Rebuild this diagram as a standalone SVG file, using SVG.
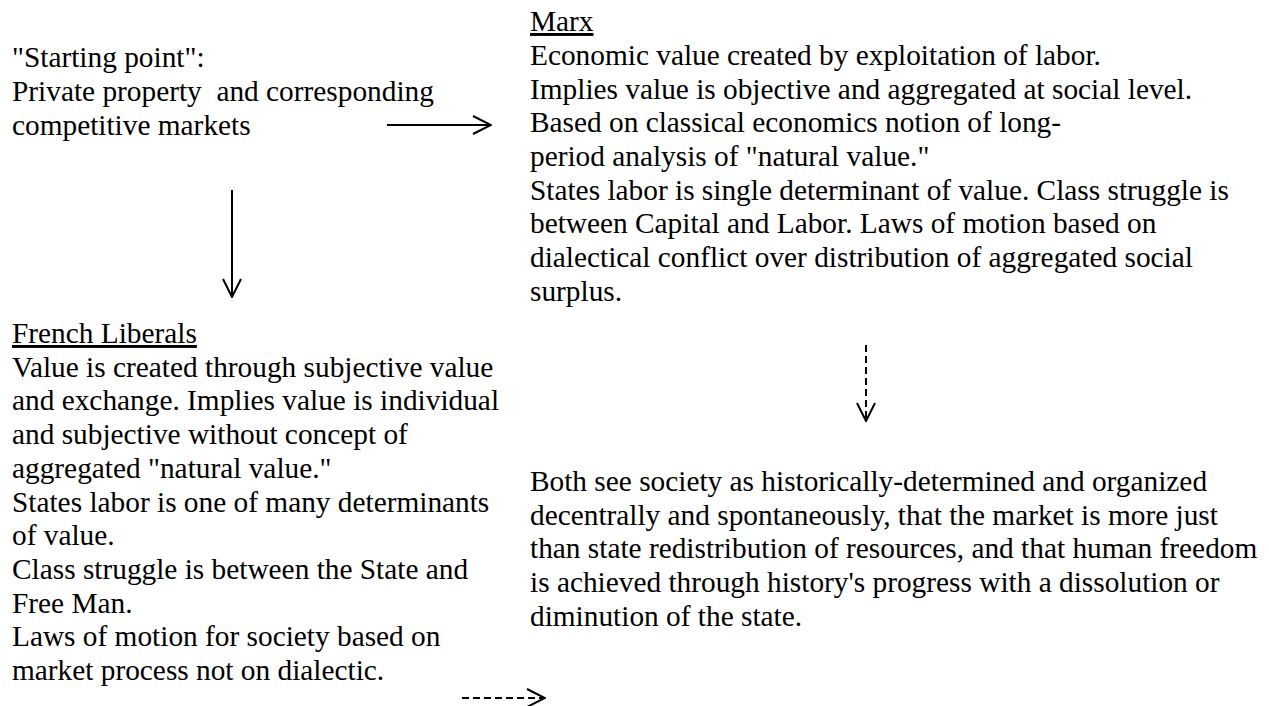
<svg xmlns="http://www.w3.org/2000/svg" width="1269" height="706" viewBox="0 0 1269 706">
  <style>
    .t { font-family: "Liberation Serif", "Times New Roman", serif; font-size: 29.33px; fill: #000; white-space: pre; }
    .u { text-decoration: underline; }
    .c { stroke: #000; stroke-width: 2; fill: none; }
    .d { stroke-dasharray: 7 4; }
  </style>
  <defs>
    <marker id="arr" viewBox="0 0 20 20" refX="19" refY="10" markerWidth="20" markerHeight="20" markerUnits="userSpaceOnUse" orient="auto">
      <path d="M1,1 L19,10 L1,19" fill="none" stroke="#000" stroke-width="2"/>
    </marker>
  </defs>
  <rect width="1269" height="706" fill="#fff"/>

  <g id="start">
    <text class="t" x="12" y="67">"Starting point":</text>
    <text class="t" x="12" y="101">Private property  and corresponding</text>
    <text class="t" x="12" y="135">competitive markets</text>
  </g>

  <g id="marx">
    <text class="t u" x="530" y="31">Marx</text>
    <text class="t" x="530" y="65">Economic value created by exploitation of labor.</text>
    <text class="t" x="530" y="99">Implies value is objective and aggregated at social level.</text>
    <text class="t" x="530" y="132">Based on classical economics notion of long-</text>
    <text class="t" x="530" y="166">period analysis of "natural value."</text>
    <text class="t" x="530" y="200">States labor is single determinant of value. Class struggle is</text>
    <text class="t" x="530" y="233">between Capital and Labor. Laws of motion based on</text>
    <text class="t" x="530" y="267">dialectical conflict over distribution of aggregated social</text>
    <text class="t" x="530" y="301">surplus.</text>
  </g>

  <g id="french">
    <text class="t u" x="12" y="343">French Liberals</text>
    <text class="t" x="12" y="377">Value is created through subjective value</text>
    <text class="t" x="12" y="410">and exchange. Implies value is individual</text>
    <text class="t" x="12" y="444">and subjective without concept of</text>
    <text class="t" x="12" y="478">aggregated "natural value."</text>
    <text class="t" x="12" y="512">States labor is one of many determinants</text>
    <text class="t" x="12" y="545">of value.</text>
    <text class="t" x="12" y="579">Class struggle is between the State and</text>
    <text class="t" x="12" y="613">Free Man.</text>
    <text class="t" x="12" y="646">Laws of motion for society based on</text>
    <text class="t" x="12" y="680">market process not on dialectic.</text>
  </g>

  <g id="both">
    <text class="t" x="530" y="491">Both see society as historically-determined and organized</text>
    <text class="t" x="530" y="525">decentrally and spontaneously, that the market is more just</text>
    <text class="t" x="530" y="558">than state redistribution of resources, and that human freedom</text>
    <text class="t" x="530" y="592">is achieved through history's progress with a dissolution or</text>
    <text class="t" x="530" y="626">diminution of the state.</text>
  </g>

  <g id="connectors">
    <line class="c" x1="387" y1="125" x2="491" y2="125" marker-end="url(#arr)"/>
    <line class="c" x1="232" y1="190" x2="232" y2="297" marker-end="url(#arr)"/>
    <line class="c d" x1="866" y1="345" x2="866" y2="421" marker-end="url(#arr)"/>
    <line class="c d" x1="462" y1="698" x2="545" y2="698" marker-end="url(#arr)"/>
  </g>
</svg>
